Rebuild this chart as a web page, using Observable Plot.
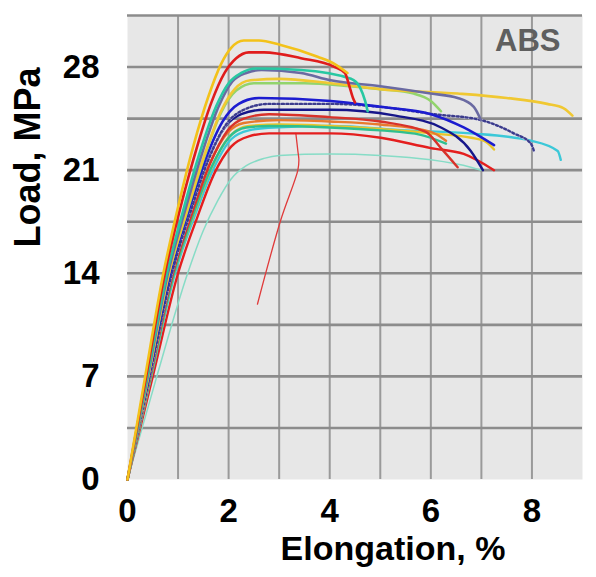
<!DOCTYPE html>
<html><head><meta charset="utf-8">
<script src="https://cdn.jsdelivr.net/npm/d3@7"></script>
<script src="https://cdn.jsdelivr.net/npm/@observablehq/plot@0.6"></script>
<style>body{margin:0;background:#fff;}</style>
</head><body><div id="chart"></div>
<script>
// Tick labels and grid
const xTicks = [0, 2, 4, 6, 8];
const yTicks = [0, 7, 14, 21, 28];
const xGrid = [1, 2, 3, 4, 5, 6, 7, 8];
const yGrid = [3.5, 7, 10.5, 14, 17.5, 21, 24.5, 28, 31.5];

// Curves: [elongation %, load MPa]
const lightTeal = [[0,0],[0.58,7],[1.19,14],[1.5,16.9],[1.78,18.9],[2.05,20.4],[2.35,21.3],[2.7,21.8],[3.0,22.0],[4.0,22.1],[5.0,22.0],[6.0,21.7],[6.79,21.2],[6.99,21.0]];
const redOutlier = [[2.57,11.9],[3.03,17.6],[3.37,21.0],[3.39,21.7],[3.37,22.3],[3.33,23.5]];
const redBottom = [[0,0],[0.5,7],[1.0,14],[1.38,17.8],[1.72,20.8],[2.05,22.6],[2.4,23.3],[2.8,23.5],[4.02,23.5],[5.01,23.2],[6.0,22.5],[6.65,22.1],[7.25,21.0]];
const cyan = [[0,0],[0.47,7],[0.94,14],[1.33,17.9],[1.7,21.1],[2.05,23.1],[2.4,23.7],[2.9,23.9],[4.02,24.0],[5.5,23.7],[6.79,23.5],[7.98,23.0],[8.51,22.3],[8.57,21.7]];
const goldLow = [[0,0],[0.46,7],[0.92,14],[1.31,18.0],[1.68,21.3],[2.02,23.3],[2.4,24.0],[3.0,24.1],[4.0,24.0],[5.0,23.8],[6.0,23.5],[6.8,23.2],[7.1,22.9],[7.25,22.4]];
const greenMid = [[0,0],[0.46,7],[0.92,14],[1.3,18.0],[1.66,21.2],[2.0,23.2],[2.35,23.9],[2.8,24.0],[4.0,23.9],[5.0,23.7],[5.8,23.4],[6.3,22.8]];
const orange = [[0,0],[0.44,7],[0.88,14],[1.26,18.1],[1.62,21.4],[1.97,23.5],[2.3,24.2],[3.0,24.4],[4.0,24.3],[5.0,24.1],[6.0,23.6],[6.3,23.0]];
const crimsonSteep = [[0,0],[0.45,7],[0.9,14],[1.28,18.1],[1.64,21.5],[1.98,23.7],[2.3,24.5],[2.8,24.8],[4.0,24.6],[5.0,24.3],[5.9,23.6],[6.2,22.5],[6.53,21.2]];
const navy = [[0,0],[0.43,7],[0.86,14],[1.23,18.2],[1.58,21.6],[1.92,23.9],[2.25,24.8],[2.7,25.1],[4.02,25.1],[5.3,24.7],[6.2,23.9],[6.79,22.3],[7.03,21.0]];
const dotted = [[0,0],[0.44,7],[0.88,14],[1.25,18.2],[1.6,21.7],[1.95,24.1],[2.3,25.1],[2.8,25.5],[4.02,25.5],[5.0,25.3],[6.06,24.8],[6.99,24.4],[7.64,23.5],[7.98,22.8],[8.04,22.3]];
const royalBlue = [[0,0],[0.42,7],[0.84,14],[1.2,18.2],[1.55,21.8],[1.88,24.3],[2.2,25.5],[2.6,25.9],[4.02,25.7],[5.0,25.3],[6.0,24.8],[6.65,23.9],[7.25,22.7]];
const lightGreen = [[0,0],[0.41,7],[0.82,14],[1.18,18.2],[1.52,21.9],[1.85,24.9],[2.15,26.4],[2.5,26.9],[3.5,26.9],[4.4,26.7],[5.0,26.5],[5.66,26.2],[6.0,25.7],[6.2,25.0]];
const yellowLong = [[0,0],[0.41,7],[0.82,14],[1.18,18.3],[1.52,22.0],[1.85,25.0],[2.12,26.5],[2.43,27.1],[3.0,27.2],[4.02,26.9],[5.0,26.5],[6.53,26.2],[7.5,25.9],[8.3,25.5],[8.63,25.2],[8.8,24.7]];
const slateBlue = [[0,0],[0.4,7],[0.8,14],[1.15,18.4],[1.48,22.2],[1.8,25.3],[2.07,27.0],[2.35,27.6],[2.65,27.8],[3.43,27.6],[4.02,27.1],[5.0,26.7],[6.0,26.2],[6.53,25.9],[6.85,25.3],[6.99,24.4]];
const tealTop = [[0,0],[0.39,7],[0.78,14],[1.12,18.5],[1.44,22.3],[1.75,25.3],[2.0,26.9],[2.25,27.6],[2.55,27.9],[3.43,27.8],[4.42,27.2],[4.6,26.6],[4.7,25.7],[4.75,25.0]];
const redTop = [[0,0],[0.37,7],[0.74,14],[1.05,18.5],[1.36,22.4],[1.66,25.6],[1.92,27.6],[2.15,28.6],[2.4,29.0],[2.7,29.0],[3.43,28.6],[4.1,28.0],[4.3,27.6],[4.38,26.8],[4.46,25.9],[4.5,25.6]];
const yellowTop = [[0,0],[0.35,7],[0.71,14],[1.0,18.5],[1.3,22.6],[1.6,26.0],[1.85,28.2],[2.05,29.3],[2.3,29.8],[2.6,29.8],[3.03,29.5],[3.76,28.7],[4.1,28.2],[4.35,27.6]];

const thinNames = ["lightTeal"];
const thinColors = ["#86dcc6"];
const thinSeries = [lightTeal];
const outlierColor = "#e03a3a";

const lowerNames = ["redBottom", "cyan", "goldLow", "greenMid", "orange", "crimsonSteep", "navy"];
const lowerColors = ["#e41e1e", "#3cc8d8", "#e9c52a", "#2fbf8f", "#e8792e", "#d8322a", "#16168a"];
const lowerSeries = [redBottom, cyan, goldLow, greenMid, orange, crimsonSteep, navy];

const dottedColor = "#3c3c8c";

const upperNames = ["royalBlue", "lightGreen", "yellowLong", "slateBlue", "tealTop", "redTop", "yellowTop"];
const upperColors = ["#1c1cd0", "#92d46c", "#f0c832", "#6a6aa2", "#28c8a2", "#e01c1c", "#f3c21a"];
const upperSeries = [royalBlue, lightGreen, yellowLong, slateBlue, tealTop, redTop, yellowTop];

function rows(names, colors, series) {
  const out = [];
  series.forEach((pts, i) => pts.forEach(([x, y]) => out.push({series: names[i], color: colors[i], x, y})));
  return out;
}
const thinRows = rows(thinNames, thinColors, thinSeries);
const lowerRows = rows(lowerNames, lowerColors, lowerSeries);
const upperRows = rows(upperNames, upperColors, upperSeries);
const dottedRows = dotted.map(([x, y]) => ({x, y}));
const outlierRows = redOutlier.map(([x, y]) => ({x, y}));

const bold = "bold";
const chart = Plot.plot({
  width: 596,
  height: 577,
  marginLeft: 127,
  marginRight: 14,
  marginTop: 15,
  marginBottom: 98,
  x: {domain: [0, 9]},
  y: {domain: [0, 31.5]},
  color: {type: "identity"},
  style: {fontFamily: "'Liberation Sans', Arial, sans-serif", background: "#fff", color: "#000"},
  marks: [
    Plot.frame({fill: "#e7e7e7", stroke: null}),
    Plot.ruleX(xGrid, {stroke: "#9a9a9a", strokeWidth: 2}),
    Plot.ruleY(yGrid, {stroke: "#8c8c8c", strokeWidth: 2.6}),
    Plot.line(thinRows, {x: "x", y: "y", z: "series", stroke: "color", strokeWidth: 1.5, curve: "monotone-x"}),
    Plot.line(outlierRows, {x: "x", y: "y", stroke: outlierColor, strokeWidth: 1.3, curve: "catmull-rom"}),
    Plot.line(lowerRows, {x: "x", y: "y", z: "series", stroke: "color", strokeWidth: 2.4, curve: "monotone-x"}),
    Plot.line(dottedRows, {x: "x", y: "y", stroke: "#d8d8ee", strokeWidth: 2.4, curve: "monotone-x"}),
    Plot.line(dottedRows, {x: "x", y: "y", stroke: dottedColor, strokeWidth: 2.4, strokeDasharray: "2,2.5", curve: "monotone-x"}),
    Plot.line(upperRows, {x: "x", y: "y", z: "series", stroke: "color", strokeWidth: 2.6, curve: "monotone-x"}),
    Plot.axisX(xTicks, {tickSize: 0, tickPadding: 19, fontSize: 33, fontWeight: bold, label: null}),
    Plot.axisY(yTicks, {tickSize: 0, tickPadding: 28, fontSize: 33, fontWeight: bold, label: null}),
    Plot.text(["Elongation, %"], {frameAnchor: "bottom", dx: 38, dy: 80, fontSize: 34, fontWeight: bold, fill: "#000"}),
    Plot.text(["Load, MPa"], {frameAnchor: "left", rotate: -90, dx: -99, dy: 0, fontSize: 36, fontWeight: bold, fill: "#000"}),
    Plot.text(["ABS"], {frameAnchor: "top-right", textAnchor: "end", lineAnchor: "top", dx: -22, dy: 13, fontSize: 31, fontWeight: bold, fill: "#5f5f5f"})
  ]
});
document.getElementById("chart").appendChild(chart);
</script>
</body></html>
